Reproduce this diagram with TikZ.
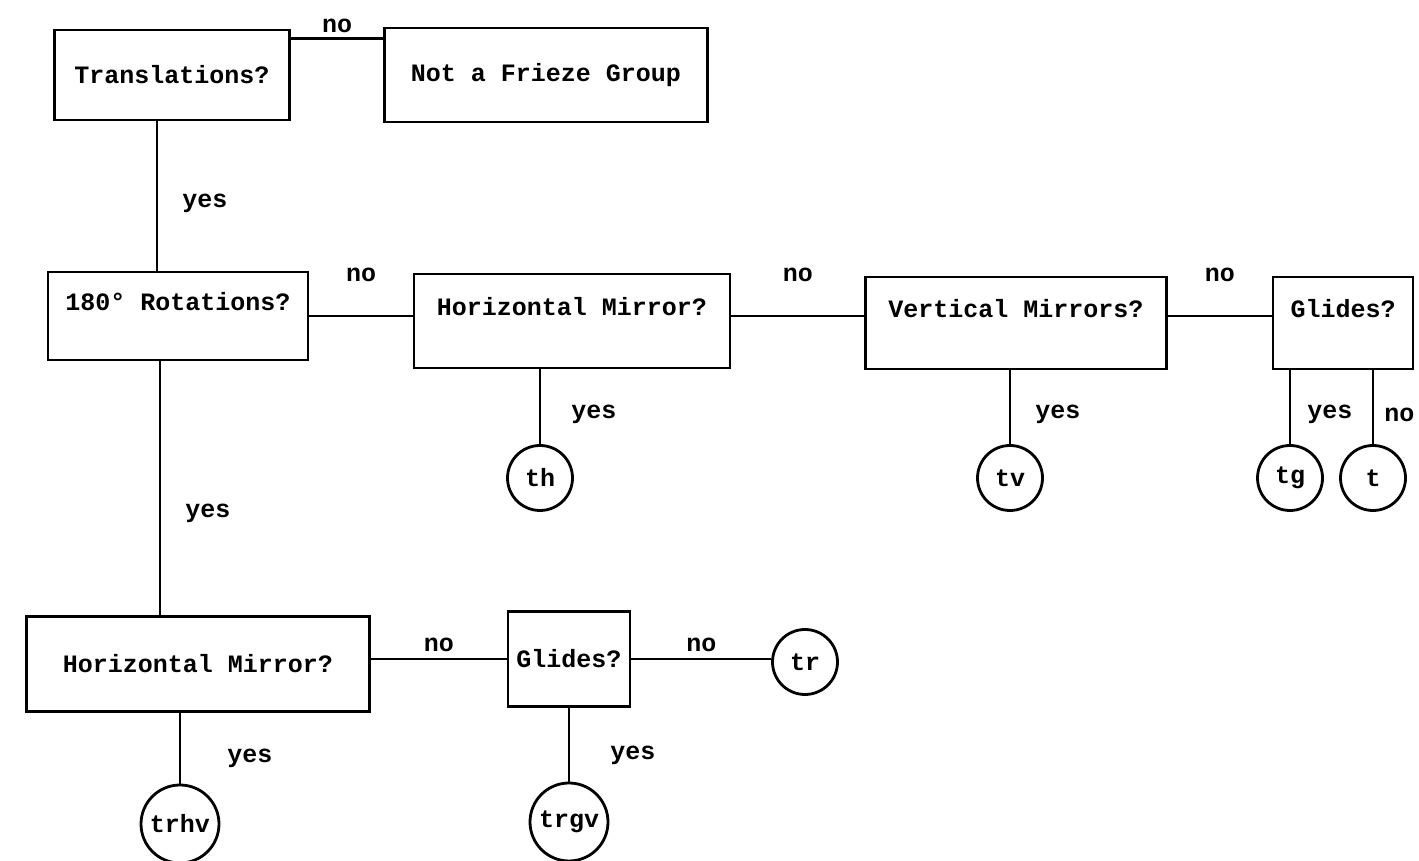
\documentclass[tikz,border=0pt]{standalone}
\usepackage{fontspec}
\setmonofont{Liberation Mono}
\tikzset{friezechart/.style={x=1pt,y=1pt,line width=2.8pt,font=\ttfamily\bfseries\fontsize{25}{30}\selectfont},
  qbox/.style={draw,rectangle,inner sep=0pt},
  upper/.style={text depth=30pt},
  grp/.style={draw,circle,minimum size=65pt,inner sep=0pt},
  biggrp/.style={grp,minimum size=78pt},
  ans/.style={midway,inner sep=0pt}}

\begin{document}
\begin{tikzpicture}[friezechart]
    \useasboundingbox (0,0) rectangle (1419,861);
    % questions, top row
    \node[qbox,minimum width=235pt,minimum height=90pt] (trans) at (172,786) {Translations?};
    \node[qbox,minimum width=323pt,minimum height=94pt] (notfg) at (546,786) {Not a Frieze Group};
    % second row
    \node[qbox,upper,minimum width=260pt,minimum height=88pt] (rot) at (178,545) {180° Rotations?};
    \node[qbox,upper,minimum width=316pt,minimum height=94pt] (hmir) at (572,540) {Horizontal Mirror?};
    \node[qbox,upper,minimum width=301pt,minimum height=92pt] (vmir) at (1016,538) {Vertical Mirrors?};
    \node[qbox,upper,minimum width=140pt,minimum height=92pt] (glide) at (1343,538) {Glides?};
    % third row
    \node[qbox,minimum width=343pt,minimum height=95pt] (hmirb) at (198,197) {Horizontal Mirror?};
    \node[qbox,minimum width=122pt,minimum height=95pt] (glideb) at (569,202) {Glides?};
    % the seven groups
    \node[grp] (th) at (540,383) {th};
    \node[grp] (tv) at (1010,383) {tv};
    \node[grp] (tg) at (1290,383) {tg};
    \node[grp] (t) at (1373,383) {t};
    \node[grp] (tr) at (805,199) {tr};
    \node[biggrp] (trhv) at (180,37) {trhv};
    \node[biggrp] (trgv) at (569,39) {trgv};
    % no branches
    \draw ([yshift=-10pt]trans.north east) -- ([yshift=-10pt]trans.north east -| notfg.west)
        node[ans,above=4pt] {no};
    \draw (rot.east) -- (rot.east -| hmir.west) node[ans,above=33pt] {no};
    \draw (rot.east -| hmir.east) -- (rot.east -| vmir.west) node[ans,above=33pt] {no};
    \draw (rot.east -| vmir.east) -- (rot.east -| glide.west) node[ans,above=33pt] {no};
    \draw (glideb.west -| hmirb.east) -- (glideb.west) node[ans,above=6pt] {no};
    \draw (glideb.east) -- (glideb.east -| tr.west) node[ans,above=6pt] {no};
    \draw (glide.south -| t) -- (t.north) node[ans,pos=0.6,right=10pt] {no};
    % yes branches
    \draw ([xshift=-15pt]trans.south) -- ([xshift=-15pt]trans.south |- rot.north)
        node[ans,pos=0.55,right=24pt] {yes};
    \draw ([xshift=-18pt]rot.south) -- ([xshift=-18pt]rot.south |- hmirb.north)
        node[ans,pos=0.6,right=24pt] {yes};
    \draw (hmir.south -| th) -- (th.north) node[ans,pos=0.6,right=30pt] {yes};
    \draw (vmir.south -| tv) -- (tv.north) node[ans,pos=0.6,right=24pt] {yes};
    \draw (glide.south -| tg) -- (tg.north) node[ans,pos=0.6,right=16pt] {yes};
    \draw (hmirb.south -| trhv) -- (trhv.north) node[ans,pos=0.65,right=46pt] {yes};
    \draw (glideb.south -| trgv) -- (trgv.north) node[ans,pos=0.65,right=40pt] {yes};
\end{tikzpicture}
\end{document}
